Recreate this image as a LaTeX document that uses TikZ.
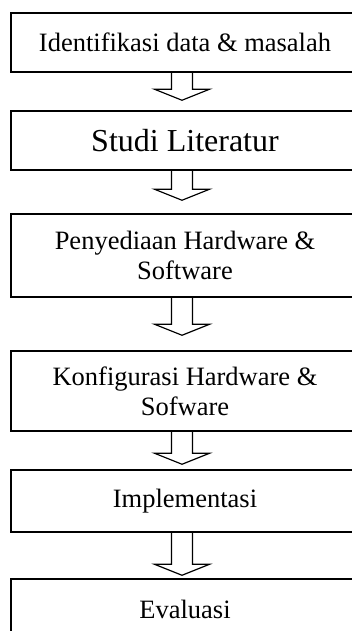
\documentclass[tikz,border=0pt]{standalone}
\usepackage{fontspec}
\setmainfont{Liberation Serif}
\usepackage{tikz}
\usetikzlibrary{calc}

\tikzset{
	kotak/.style={draw, line width=1.5pt, minimum width=348pt, align=center,
		inner sep=0pt, font=\fontsize{26.5}{30}\selectfont},
	panah/.style={draw, line width=1.2pt, line join=miter}
}

\begin{document}
\begin{tikzpicture}[x=1pt,y=-1pt]
		\useasboundingbox (0,0) rectangle (351,631);
		\coordinate (A) at (185,42.5);
		\coordinate (B) at (185,140.5);
		\coordinate (C) at (185,255.5);
		\coordinate (D) at (185,391);
		\coordinate (E) at (185,501);
		\coordinate (F) at (185,609.5);
		\node[kotak, minimum height=59pt] (identifikasi) at (A) {Identifikasi data \& masalah};
		\node[kotak, minimum height=59pt, font=\fontsize{32}{36}\selectfont] (studi) at (B) {Studi Literatur};
		\node[kotak, minimum height=83pt] (penyediaan) at (C) {Penyediaan Hardware \&\\Software};
		\node[kotak, minimum height=80pt] (konfigurasi) at (D) {Konfigurasi Hardware \&\\Sofware};
		\node[kotak, minimum height=62pt] (implementasi) at (E) {Implementasi};
		\node[kotak, minimum height=61pt] (evaluasi) at (F) {Evaluasi};
		% panah antar tahap
		\foreach \a/\b/\g in {identifikasi/studi/10, studi/penyediaan/13,
			penyediaan/konfigurasi/15, konfigurasi/implementasi/5, implementasi/evaluasi/3}
		{
			\coordinate (T) at ($(\b.north)+(-3,-\g)$);
			\draw[panah] ($(\a.south)+(-13.5,0)$) -- ($(T)+(-10.5,-11)$)
				-- ($(T)+(-27.5,-11)$) -- (T) -- ($(T)+(27.5,-11)$)
				-- ($(T)+(10.5,-11)$) -- ($(\a.south)+(7.5,0)$);
		}
\end{tikzpicture}
\end{document}
